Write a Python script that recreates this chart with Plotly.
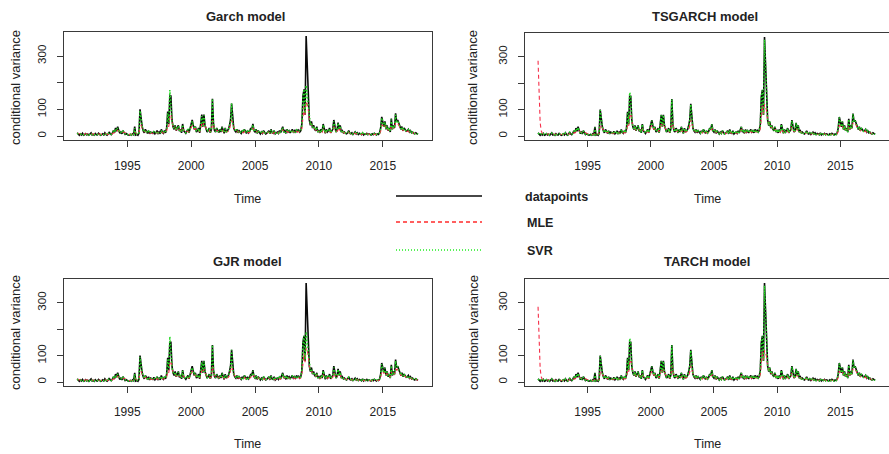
import plotly.graph_objects as go

# ---------------- data (monthly, ts start = 1991 month 2, frequency 12) ----------------
start_year = 1991
start_month = 2
frequency = 12

datapoints = [
    12, 6, 3, 8, 4, 10, 3, 5, 9, 4, 7,
    3, 8, 12, 4, 6, 3, 9, 5, 4, 10, 6, 3,
    5, 8, 4, 12, 6, 3, 7, 15, 8, 5, 10, 20,
    12, 30, 18, 35, 22, 10, 15, 8, 20, 12, 6, 9,
    5, 3, 4, 6, 3, 8, 5, 35, 4, 6, 3, 10,
    100, 60, 35, 20, 12, 25, 15, 10, 20, 8, 15, 12,
    10, 18, 8, 12, 20, 10, 15, 8, 25, 14, 10, 20,
    12, 30, 92, 45, 150, 150, 60, 35, 25, 40, 20, 30,
    40, 18, 25, 12, 45, 20, 15, 10, 18, 25, 12, 30,
    55, 60, 40, 25, 35, 15, 20, 30, 12, 45, 80, 35,
    80, 40, 25, 15, 20, 30, 12, 25, 140, 45, 20, 15,
    30, 20, 12, 25, 15, 35, 20, 10, 30, 15, 20, 25,
    40, 60, 122, 55, 30, 20, 15, 25, 12, 20, 15, 10,
    20, 12, 25, 15, 10, 20, 12, 18, 30, 25, 45, 20,
    15, 25, 10, 20, 12, 8, 15, 10, 20, 12, 8, 10,
    15, 20, 8, 25, 12, 10, 20, 8, 12, 15, 10, 20,
    12, 25, 35, 15, 20, 10, 25, 15, 20, 12, 18, 25,
    15, 20, 12, 25, 18, 22, 15, 20, 45, 150, 175, 80,
    375, 265, 190, 60, 40, 55, 30, 40, 25, 20, 35, 15,
    20, 12, 25, 15, 45, 20, 10, 25, 15, 20, 30, 12,
    18, 25, 60, 30, 15, 20, 50, 25, 40, 15, 20, 12,
    15, 10, 8, 12, 20, 10, 8, 12, 6, 10, 15, 8,
    12, 6, 10, 8, 5, 12, 4, 8, 6, 10, 5, 8,
    6, 4, 8, 5, 10, 6, 4, 8, 6, 12, 30, 72,
    50, 35, 55, 25, 40, 20, 30, 15, 65, 25, 40, 30,
    85, 55, 60, 50, 40, 25, 35, 20, 30, 25, 18, 20,
    25, 15, 20, 12, 15, 10, 8, 12, 10, 6,
]

mle_sym = [
    10, 9, 8, 8, 7, 8, 7, 7, 8, 7, 7,
    7, 7, 8, 7, 7, 6, 7, 7, 6, 7, 7, 6,
    6, 7, 6, 8, 7, 6, 6, 9, 8, 7, 8, 12,
    12, 18, 16, 22, 20, 15, 14, 12, 15, 13, 10, 10,
    8, 7, 6, 6, 5, 6, 6, 15, 10, 8, 7, 8,
    35, 40, 30, 22, 16, 18, 15, 12, 15, 11, 12, 11,
    10, 13, 10, 11, 14, 11, 12, 10, 16, 13, 11, 14,
    12, 18, 40, 35, 70, 80, 50, 35, 28, 30, 22, 24,
    30, 22, 22, 16, 28, 20, 16, 13, 15, 18, 14, 20,
    32, 40, 34, 26, 28, 20, 19, 22, 15, 28, 45, 35,
    50, 38, 28, 20, 19, 22, 15, 18, 60, 40, 25, 18,
    22, 19, 15, 18, 15, 22, 18, 13, 20, 15, 16, 18,
    25, 38, 60, 45, 32, 24, 18, 19, 14, 16, 14, 12,
    15, 12, 17, 14, 11, 14, 12, 14, 20, 20, 30, 22,
    17, 20, 13, 16, 12, 10, 12, 10, 14, 11, 9, 9,
    12, 15, 10, 17, 12, 10, 14, 9, 10, 12, 10, 14,
    11, 18, 24, 17, 17, 12, 18, 14, 16, 12, 14, 18,
    14, 16, 12, 18, 15, 17, 14, 16, 28, 80, 110, 75,
    130, 120, 100, 60, 45, 45, 32, 34, 26, 22, 27, 17,
    17, 13, 18, 14, 28, 20, 13, 18, 14, 16, 20, 13,
    15, 18, 35, 26, 17, 17, 30, 22, 28, 16, 17, 12,
    13, 10, 9, 10, 14, 10, 8, 10, 7, 9, 11, 8,
    9, 7, 8, 7, 6, 9, 5, 7, 6, 8, 6, 7,
    6, 5, 6, 5, 7, 6, 5, 6, 6, 8, 18, 40,
    40, 32, 40, 27, 32, 22, 25, 17, 40, 28, 32, 27,
    50, 45, 48, 42, 35, 26, 28, 20, 24, 22, 17, 17,
    19, 14, 16, 12, 13, 10, 9, 10, 9, 7,
]

mle_asym = [
    285, 140, 50, 20, 10, 8, 7, 7, 8, 7, 7,
    7, 7, 8, 7, 7, 6, 7, 7, 6, 7, 7, 6,
    6, 7, 6, 8, 7, 6, 6, 9, 8, 7, 8, 12,
    12, 17, 16, 21, 20, 15, 14, 12, 15, 13, 10, 10,
    8, 7, 6, 6, 5, 6, 6, 14, 10, 8, 7, 8,
    38, 42, 30, 22, 16, 18, 15, 12, 15, 11, 12, 11,
    10, 13, 10, 11, 14, 11, 12, 10, 16, 13, 11, 14,
    12, 18, 42, 36, 75, 85, 52, 35, 28, 30, 22, 24,
    30, 22, 22, 16, 28, 20, 16, 13, 15, 18, 14, 20,
    32, 40, 34, 26, 28, 20, 19, 22, 15, 28, 45, 35,
    50, 38, 28, 20, 19, 22, 15, 18, 62, 40, 25, 18,
    22, 19, 15, 18, 15, 22, 18, 13, 20, 15, 16, 18,
    25, 38, 62, 45, 32, 24, 18, 19, 14, 16, 14, 12,
    15, 12, 17, 14, 11, 14, 12, 14, 20, 20, 30, 22,
    17, 20, 13, 16, 12, 10, 12, 10, 14, 11, 9, 9,
    12, 15, 10, 17, 12, 10, 14, 9, 10, 12, 10, 14,
    11, 18, 24, 17, 17, 12, 18, 14, 16, 12, 14, 18,
    14, 16, 12, 18, 15, 17, 14, 16, 28, 85, 115, 80,
    120, 110, 95, 60, 45, 45, 32, 34, 26, 22, 27, 17,
    17, 13, 18, 14, 28, 20, 13, 18, 14, 16, 20, 13,
    15, 18, 35, 26, 17, 17, 30, 22, 28, 16, 17, 12,
    13, 10, 9, 10, 14, 10, 8, 10, 7, 9, 11, 8,
    9, 7, 8, 7, 6, 9, 5, 7, 6, 8, 6, 7,
    6, 5, 6, 5, 7, 6, 5, 6, 6, 8, 18, 40,
    40, 32, 40, 27, 32, 22, 25, 17, 40, 28, 32, 27,
    50, 45, 48, 42, 35, 26, 28, 20, 24, 22, 17, 17,
    19, 14, 16, 12, 13, 10, 9, 10, 9, 7,
]

svr_sym = [
    10, 8, 5, 7, 6, 9, 4, 6, 8, 5, 8,
    4, 7, 10, 5, 7, 4, 8, 6, 5, 9, 7, 4,
    6, 7, 5, 10, 7, 4, 8, 13, 9, 6, 9, 18,
    14, 27, 20, 30, 20, 12, 14, 10, 18, 13, 8, 10,
    6, 4, 5, 7, 4, 9, 6, 30, 6, 7, 5, 12,
    95, 55, 38, 22, 14, 22, 16, 12, 18, 10, 14, 13,
    12, 16, 10, 13, 18, 12, 14, 10, 22, 15, 12, 18,
    14, 28, 85, 50, 172, 120, 55, 38, 28, 38, 22, 30,
    38, 20, 24, 14, 42, 22, 16, 12, 19, 24, 14, 28,
    50, 55, 42, 27, 33, 17, 21, 28, 14, 42, 75, 38,
    78, 42, 27, 17, 21, 28, 14, 24, 140, 48, 22, 17,
    28, 21, 14, 24, 16, 32, 21, 12, 28, 16, 20, 24,
    38, 58, 122, 50, 32, 22, 17, 24, 14, 20, 16, 12,
    19, 14, 24, 16, 12, 19, 13, 18, 28, 26, 42, 21,
    16, 24, 12, 19, 13, 10, 15, 11, 19, 13, 9, 11,
    15, 19, 10, 23, 13, 11, 19, 10, 13, 15, 11, 19,
    13, 23, 32, 16, 19, 12, 23, 15, 19, 13, 18, 23,
    16, 19, 13, 23, 18, 21, 16, 20, 42, 145, 175, 85,
    190, 150, 110, 58, 42, 50, 32, 38, 26, 22, 33, 17,
    20, 14, 24, 16, 42, 20, 12, 24, 16, 20, 28, 13,
    18, 24, 55, 30, 16, 20, 48, 25, 38, 16, 20, 13,
    15, 11, 9, 12, 18, 11, 9, 12, 7, 10, 14, 9,
    12, 7, 10, 9, 6, 12, 5, 8, 7, 10, 6, 8,
    7, 5, 8, 6, 10, 7, 5, 8, 7, 12, 28, 68,
    48, 35, 52, 26, 38, 21, 30, 16, 62, 26, 38, 30,
    80, 55, 58, 48, 38, 26, 33, 21, 28, 24, 18, 20,
    24, 15, 19, 12, 15, 10, 9, 12, 10, 7,
]

svr_asym = [
    11, 7, 4, 8, 5, 9, 4, 6, 9, 5, 7,
    4, 8, 11, 5, 6, 4, 9, 5, 5, 9, 6, 4,
    5, 8, 5, 11, 6, 4, 7, 14, 8, 6, 10, 19,
    13, 28, 19, 33, 21, 11, 15, 9, 19, 12, 7, 9,
    6, 4, 4, 6, 4, 8, 5, 32, 5, 6, 4, 10,
    98, 58, 36, 21, 13, 24, 15, 11, 19, 9, 15, 12,
    11, 17, 9, 12, 19, 11, 15, 9, 24, 14, 11, 19,
    13, 29, 90, 47, 165, 148, 58, 36, 26, 39, 21, 29,
    39, 19, 25, 13, 44, 21, 15, 11, 18, 25, 13, 29,
    53, 58, 41, 26, 34, 16, 20, 29, 13, 44, 78, 36,
    79, 41, 26, 16, 20, 29, 13, 25, 138, 46, 21, 16,
    29, 20, 13, 25, 15, 34, 20, 11, 29, 15, 20, 25,
    39, 59, 120, 53, 31, 21, 16, 25, 13, 20, 15, 11,
    20, 13, 25, 15, 11, 20, 12, 18, 29, 25, 44, 20,
    15, 25, 11, 20, 12, 9, 15, 10, 20, 12, 8, 10,
    15, 20, 9, 24, 12, 10, 20, 9, 12, 15, 10, 20,
    12, 24, 34, 15, 20, 11, 24, 15, 20, 12, 18, 24,
    15, 20, 12, 24, 18, 22, 15, 20, 44, 148, 172, 82,
    365, 268, 185, 59, 41, 54, 31, 39, 25, 20, 34, 15,
    20, 12, 25, 15, 44, 20, 11, 25, 15, 20, 29, 12,
    18, 25, 58, 29, 15, 20, 49, 25, 39, 15, 20, 12,
    15, 10, 8, 12, 19, 10, 8, 12, 6, 10, 15, 8,
    12, 6, 10, 8, 5, 12, 4, 8, 6, 10, 5, 8,
    6, 4, 8, 5, 10, 6, 4, 8, 6, 12, 29, 70,
    49, 35, 54, 25, 39, 20, 30, 15, 63, 25, 39, 30,
    83, 55, 59, 49, 39, 25, 34, 20, 29, 25, 18, 20,
    25, 15, 19, 12, 15, 10, 8, 12, 10, 6,
]

panel_titles = ["Garch model", "TSGARCH model", "GJR model", "TARCH model"]
panel_mle = [mle_sym, mle_asym, mle_sym, mle_asym]
panel_svr = [svr_sym, svr_asym, svr_sym, svr_asym]
x_tick_vals = [1995, 2000, 2005, 2010, 2015]
y_tick_vals = [0, 100, 200, 300]
y_tick_text = ["0", "100", "", "300"]
legend_labels = ["datapoints", "MLE", "SVR"]

# ts time index
time = [start_year + (start_month - 1 + i) / frequency for i in range(len(datapoints))]

# ---------------- layout geometry ----------------
W, H = 889, 454
FONT = "Liberation Sans, Arial, sans-serif"
TXT = "#222222"
AX = "#3a3a3a"
C_DATA = "#0a0a0a"
C_MLE = "#f5304a"
C_SVR = "#22d822"

# (left, right, top, bottom) in pixels of each plot box
boxes = [(64, 432, 32, 140), (525, 889, 33, 140), (64, 432, 279, 386), (525, 889, 279, 386)]
title_pos = [(245, 16), (705, 16), (247, 261), (707, 261)]
time_pos = [(247, 199), (707, 199), (247, 444), (707, 444)]
ylab_pos = [(16, 88), (473, 88), (15, 333), (473, 333)]

fig = go.Figure()
layout = dict(
    width=W, height=H, margin=dict(l=0, r=0, t=0, b=0),
    paper_bgcolor="white", plot_bgcolor="white", showlegend=False,
    font=dict(family=FONT, color=TXT, size=11),
)
annotations = []
shapes = []

for k in range(4):
    xa = "x" if k == 0 else f"x{k+1}"
    ya = "y" if k == 0 else f"y{k+1}"
    l, r, t, b = boxes[k]
    fig.add_trace(go.Scatter(x=time, y=datapoints, mode="lines", xaxis=xa, yaxis=ya,
                             line=dict(color=C_DATA, width=1.6)))
    fig.add_trace(go.Scatter(x=time, y=panel_mle[k], mode="lines", xaxis=xa, yaxis=ya,
                             line=dict(color=C_MLE, width=1.1, dash="4px,3px")))
    fig.add_trace(go.Scatter(x=time, y=panel_svr[k], mode="lines", xaxis=xa, yaxis=ya,
                             line=dict(color=C_SVR, width=1.5, dash="1.5px,2px")))
    xkey = "xaxis" if k == 0 else f"xaxis{k+1}"
    ykey = "yaxis" if k == 0 else f"yaxis{k+1}"
    layout[xkey] = dict(
        domain=[l / W, min(r / W, 1.0)], anchor=ya, range=[1990.05, 2018.85],
        tickvals=x_tick_vals, ticks="outside", ticklen=6, tickcolor=AX,
        showline=True, mirror=True, linecolor=AX, linewidth=1, showgrid=False, zeroline=False,
        tickfont=dict(size=12, color=TXT), ticklabelstandoff=9,
    )
    layout[ykey] = dict(
        domain=[(H - b) / H, (H - t) / H], anchor=xa, range=[-15, 390],
        tickvals=y_tick_vals, ticktext=y_tick_text, ticks="outside", ticklen=6, tickcolor=AX,
        tickangle=-90, showline=True, mirror=True, linecolor=AX, linewidth=1,
        showgrid=False, zeroline=False, tickfont=dict(size=11.5, color=TXT), ticklabelstandoff=6,
    )
    tx, ty = title_pos[k]
    annotations.append(dict(text=f"<b>{panel_titles[k]}</b>", x=tx / W, y=1 - ty / H, xref="paper", yref="paper",
                            showarrow=False, xanchor="center", yanchor="middle", font=dict(size=13, color=TXT)))
    tx, ty = time_pos[k]
    annotations.append(dict(text="Time", x=tx / W, y=1 - ty / H, xref="paper", yref="paper",
                            showarrow=False, xanchor="center", yanchor="middle", font=dict(size=12.5, color=TXT)))
    tx, ty = ylab_pos[k]
    annotations.append(dict(text="conditional variance", x=tx / W, y=1 - ty / H, xref="paper", yref="paper",
                            textangle=-90, showarrow=False, xanchor="center", yanchor="middle",
                            font=dict(size=13, color=TXT)))

# legend (drawn like R's legend())
leg_y = [196, 222, 250]
leg_style = [dict(color=C_DATA, width=1.5), dict(color="#ff2a2a", width=1.3, dash="4px,3px"),
             dict(color="#22ee22", width=1.5, dash="1px,2px")]
leg_text_x = [523, 525, 525]
for i, lab in enumerate(legend_labels):
    shapes.append(dict(type="line", xref="paper", yref="paper", x0=396 / W, x1=482 / W,
                       y0=1 - leg_y[i] / H, y1=1 - leg_y[i] / H, line=leg_style[i]))
    annotations.append(dict(text=f"<b>{lab}</b>", x=leg_text_x[i] / W, y=1 - (leg_y[i] + 1) / H,
                            xref="paper", yref="paper", showarrow=False, xanchor="left", yanchor="middle",
                            font=dict(size=12.5, color=TXT)))

layout["annotations"] = annotations
layout["shapes"] = shapes
fig.update_layout(**layout)
fig.write_html("out.html")
